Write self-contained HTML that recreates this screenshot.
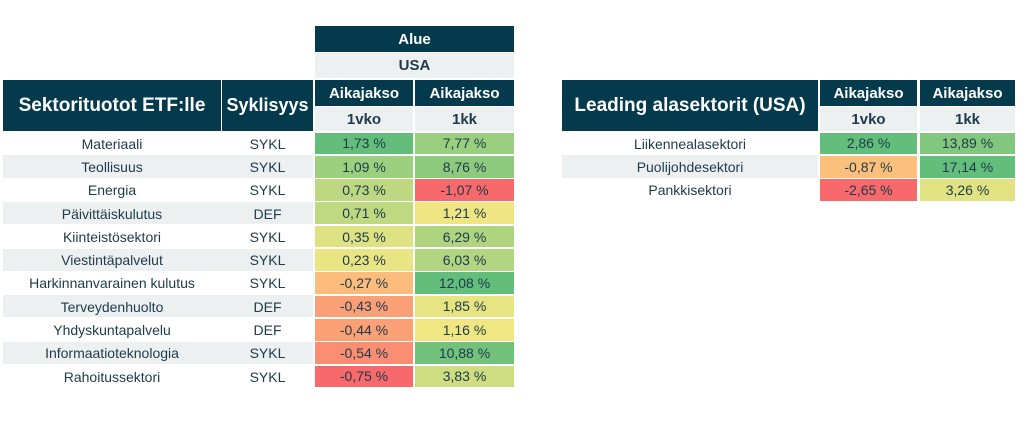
<!DOCTYPE html>
<html><head><meta charset="utf-8"><style>
body{margin:0;width:1024px;height:423px;background:#fff;position:relative;overflow:hidden;font-family:"Liberation Sans",sans-serif;}
.c{position:absolute;display:flex;align-items:center;justify-content:center;box-sizing:border-box;white-space:nowrap;color:#1d3a4a;font-size:14px;}
.h{background:#053a4c;color:#fff;font-weight:bold;}
.s{background:#edf0f1;color:#1d3a4a;font-weight:bold;}
</style></head><body>
<div id="root"></div>
<script>
const sectors=["Materiaali","Teollisuus","Energia","Päivittäiskulutus","Kiinteistösektori","Viestintäpalvelut","Harkinnanvarainen kulutus","Terveydenhuolto","Yhdyskuntapalvelu","Informaatioteknologia","Rahoitussektori"];
const cyclic=["SYKL","SYKL","SYKL","DEF","SYKL","SYKL","SYKL","DEF","DEF","SYKL","SYKL"];
const week=[1.73,1.09,0.73,0.71,0.35,0.23,-0.27,-0.43,-0.44,-0.54,-0.75];
const month=[7.77,8.76,-1.07,1.21,6.29,6.03,12.08,1.85,1.16,10.88,3.83];
const subs=["Liikennealasektori","Puolijohdesektori","Pankkisektori"];
const subWeek=[2.86,-0.87,-2.65];
const subMonth=[13.89,17.14,3.26];
const root=document.getElementById('root');
function cell(x,y,w,h,txt,cls,name,inter){
  const d=document.createElement('div');
  d.className='c '+(cls||'');
  d.style.left=x+'px';d.style.top=y+'px';d.style.width=w+'px';d.style.height=h+'px';
  d.textContent=txt;
  
  
  root.appendChild(d);return d;
}
function mix(a,b,t){return a.map((v,i)=>Math.round(v+(b[i]-v)*t));}
const RED=[248,105,107],YEL=[255,235,132],GRN=[99,190,123];
function color(v,arr){const mx=Math.max(...arr),mn=Math.min(...arr);
  const c=v>=0?mix(YEL,GRN,mx>0?v/mx:0):mix(YEL,RED,mn<0?v/mn:0);
  return 'rgb('+c.join(',')+')';}
function fmt(v){return v.toFixed(2).replace('.',',')+' %';}
const RH=23.3,Y0=132;
// left headers
let e;
e=cell(315,26,199,26,"Alue","h","region-header");e.style.fontSize='15px';
e=cell(315,53,199,25,"USA","s","region-usa");e.style.fontSize='15px';
e=cell(3,80,218,51,"Sektorituotot ETF:lle","h","sector-header");e.style.fontSize='19px';
e=cell(222,80,91,51,"Syklisyys","h","cyclicality-header");e.style.fontSize='18px';
e=cell(315,80,98,26,"Aikajakso","h","period-header-1vko");e.style.fontSize='15px';
e=cell(415,80,99,26,"Aikajakso","h","period-header-1kk");e.style.fontSize='15px';
e=cell(315,107,98,24,"1vko","s","period-1vko");e.style.fontSize='15px';
e=cell(415,107,99,24,"1kk","s","period-1kk");e.style.fontSize='15px';
for(let i=0;i<sectors.length;i++){
  const y=Y0+i*RH;
  if(i%2==1){const b=cell(3,y,310,RH-1,"","","row-band");b.style.background='#edf0f1';}
  cell(3,y,218,RH,sectors[i],"","sector-name");
  cell(222,y,91,RH,cyclic[i],"","cyclicality");
  e=cell(315,y+0.5,98,RH-1.5,fmt(week[i]),"","return-1vko");e.style.background=color(week[i],week);
  e=cell(415,y+0.5,99,RH-1.5,fmt(month[i]),"","return-1kk");e.style.background=color(month[i],month);
}
// right table
e=cell(562,80,256,51,"Leading alasektorit (USA)","h","subsector-header");e.style.fontSize='19px';
e=cell(820,80,97,26,"Aikajakso","h","sub-period-header-1vko");e.style.fontSize='15px';
e=cell(920,80,95,26,"Aikajakso","h","sub-period-header-1kk");e.style.fontSize='15px';
e=cell(820,107,97,24,"1vko","s","sub-period-1vko");e.style.fontSize='15px';
e=cell(920,107,95,24,"1kk","s","sub-period-1kk");e.style.fontSize='15px';
for(let i=0;i<subs.length;i++){
  const y=Y0+i*RH;
  if(i%2==1){const b=cell(562,y,256,RH-1,"","","sub-row-band");b.style.background='#edf0f1';}
  cell(562,y,256,RH,subs[i],"","subsector-name");
  e=cell(820,y+0.5,97,RH-1.5,fmt(subWeek[i]),"","sub-return-1vko");e.style.background=color(subWeek[i],subWeek);
  e=cell(920,y+0.5,95,RH-1.5,fmt(subMonth[i]),"","sub-return-1kk");e.style.background=color(subMonth[i],subMonth);
}
</script>
</body></html>
